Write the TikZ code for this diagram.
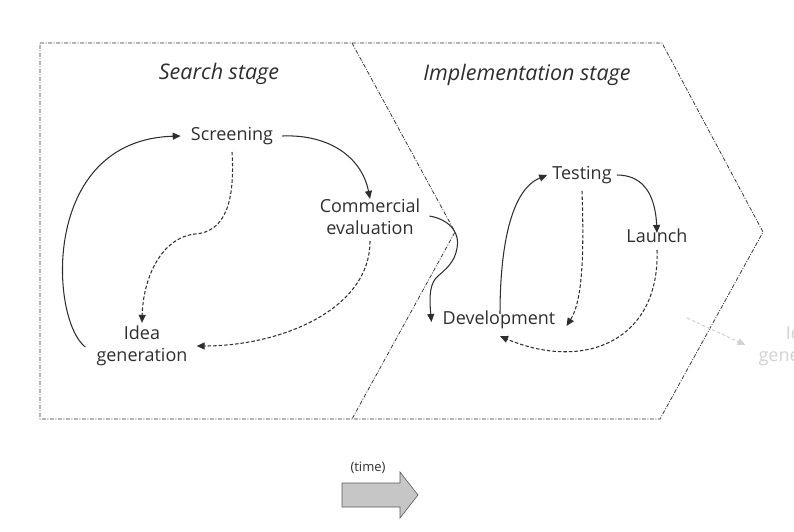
\documentclass[tikz,border=0pt]{standalone}
\usepackage{fontspec}
\setmainfont{Open Sans}
\usetikzlibrary{arrows.meta}
\definecolor{ink}{HTML}{2E2E2E}
\tikzset{
  lbl/.style={text=ink, font=\fontsize{18}{22}\selectfont, align=center, inner sep=1pt},
  ttl/.style={text=ink, font=\fontsize{21.5}{25}\selectfont\itshape},
  frame/.style={draw=ink, line width=0.75pt, dash pattern=on 4pt off 1.5pt on 1pt off 1.5pt},
  flow/.style={draw=ink, line width=1.05pt, -{Triangle[width=7pt,length=8pt]}},
  back/.style={flow, dash pattern=on 3.5pt off 2pt},
}
\begin{document}
\begin{tikzpicture}[x=1pt,y=-1pt]
\useasboundingbox (0,0) rectangle (794,531);
\clip (0,0) rectangle (794,531);
% stage frames
\draw[frame] (40,43) -- (662,43) -- (763,232) -- (660,419) -- (40,419) -- cycle;
\draw[frame] (352,43) -- (455,232) -- (352,419);
% titles
\node[ttl] (search) at (219,74) {Search stage};
\node[ttl] (impl) at (527,75) {Implementation stage};
% nodes
\node[lbl] (screen) at (232,136) {Screening};
\node[lbl] (comm) at (370,217) {Commercial\\evaluation};
\node[lbl] (idea) at (142,346) {Idea\\generation};
\node[lbl] (test) at (582,175) {Testing};
\node[lbl] (launch) at (657,236) {Launch};
\node[lbl] (dev) at (499,320) {Development};
\node[lbl, text=gray!35] (idea2) at (804,346) {Idea\\generation};
% search-stage connectors
\draw[flow] ([xshift=-10pt,yshift=-1pt]idea.west) .. controls (50,320) and (40,140) .. ([xshift=-9pt]screen.west);
\draw[flow] ([xshift=8pt]screen.east) .. controls (330,134) and (362,158) .. ([yshift=-1pt]comm.north);
\draw[back] ([yshift=-6pt]screen.south) .. controls (235,200) and (226,232) .. (195,234)
  .. controls (160,238) and (143,280) .. ([yshift=2pt]idea.north);
\draw[back] ([yshift=-5pt]comm.south) .. controls (370,310) and (280,346) .. ([xshift=8pt,yshift=0pt]idea.east);
\draw[flow] ([xshift=8pt,yshift=1pt]comm.east) .. controls (452,220) and (460,235) .. (457,248)
  .. controls (455,262) and (445,270) .. (438,276)
  .. controls (430,283) and (429,295) .. ([xshift=-10pt,yshift=-2pt]dev.west);
% implementation-stage connectors
\draw[flow] ([xshift=1pt,yshift=-4pt]dev.north) .. controls (500,250) and (510,190) .. ([xshift=-4pt]test.west);
\draw[flow] ([xshift=4pt]test.east) .. controls (640,175) and (655,190) .. ([yshift=-5pt]launch.north);
\draw[back] ([yshift=-6pt]test.south) .. controls (584,250) and (583,300) .. ([xshift=10pt,yshift=-6pt]dev.east);
\draw[back] ([yshift=-6pt]launch.south) .. controls (660,340) and (585,372) .. ([xshift=1pt,yshift=-6pt]dev.south);
\coordinate (fadefrom) at (687,318);
\draw[back, draw=gray!35] (fadefrom) -- ([xshift=-12pt,yshift=1pt]idea2.west);
% time arrow
\node[text=ink, font=\fontsize{13}{15}\selectfont, inner sep=1pt] (timelbl) at (368,468) {(time)};
\draw[draw=ink!80, fill=gray!45, line width=0.6pt]
  (342,483) -- (400,483) -- (400,472) -- (418,495) -- (400,518) -- (400,507) -- (342,507) -- cycle;
\end{tikzpicture}
\end{document}
